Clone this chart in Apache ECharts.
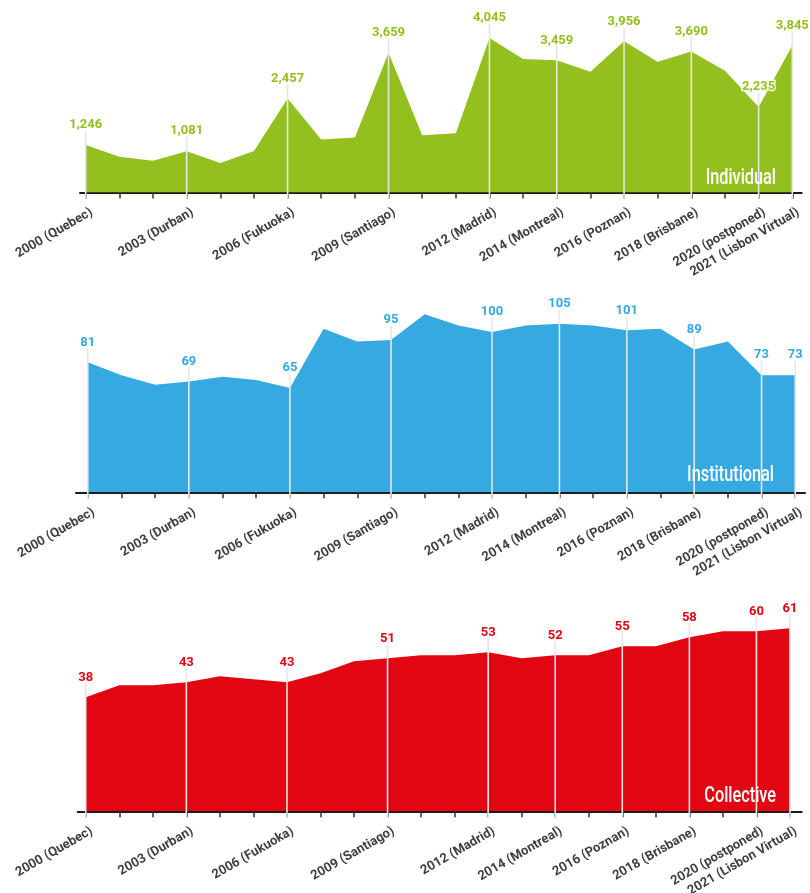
<!DOCTYPE html>
<html><head><meta charset="utf-8">
<script src="https://cdn.jsdelivr.net/npm/echarts@6/dist/echarts.min.js"></script>
<style>html,body{margin:0;padding:0;background:#fff}#c{width:810px;height:893px}</style>
</head><body><div id="c"></div>
<script>
const years = ['2000','2001','2002','2003','2004','2005','2006','2007','2008','2009','2010','2011','2012','2013','2014','2015','2016','2017','2018','2019','2020','2021'];
const labelIdx = [0,3,6,9,12,14,16,18,20,21];
const tickLabels = ['2000 (Quebec)','2003 (Durban)','2006 (Fukuoka)','2009 (Santiago)','2012 (Madrid)','2014 (Montreal)','2016 (Poznan)','2018 (Brisbane)','2020 (postponed)','2021 (Lisbon Virtual)'];
const individual = [1246,934,828,1081,775,1085,2457,1384,1437,3659,1500,1553,4045,3492,3459,3156,3956,3421,3690,3183,2235,3845];
const institutional = [81,73,67,69,72,70,65,102,94,95,111,104,100,104,105,104,101,102,89,94,73,73];
const collective = [38,42,42,43,45,44,43,46,50,51,52,52,53,51,52,52,55,55,58,60,60,61];
const seriesNames = ['Individual','Institutional','Collective'];
const colors = ['#93C01F','#36A9E1','#E20613'];

const panels = [
  {data: individual, grid:{left:80, right:8.3, top:20.5, height:172}, xmin:-0.17, xmax:21.28, ymax:4500, nameRight:776, nameY:178},
  {data: institutional, grid:{left:76, right:5, top:299.8, height:192.5}, xmin:-0.35, xmax:21.29, ymax:120, nameRight:774, nameY:475},
  {data: collective, grid:{left:77.7, right:8.3, top:616.3, height:195}, xmin:-0.24, xmax:21.35, ymax:65, nameRight:776, nameY:796}
];
const allIdx = years.map((_, i) => i);
const fmt = v => v.toLocaleString('en-US');
const ROT = 30 * Math.PI / 180;

const option = {
  animation:false,
  grid: panels.map(p => Object.assign({containLabel:false, outerBoundsMode:'none'}, p.grid)),
  xAxis: panels.map((p, k) => ({
    type:'value', gridIndex:k, min:p.xmin, max:p.xmax,
    splitLine:{show:false},
    axisLine:{show:true, lineStyle:{color:'#1a1a1a', width:2}},
    axisTick:{show:true, customValues: allIdx, length:6, lineStyle:{color:'#333', width:1.5}},
    axisLabel:{show:false}
  })),
  yAxis: panels.map((p, k) => ({type:'value', gridIndex:k, min:0, max:p.ymax, show:false, splitLine:{show:false}})),
  series: [],
  graphic: panels.map((p, k) => ({
    type:'text', x: p.nameRight, y: p.nameY, scaleX:0.74, z:100,
    style:{text: seriesNames[k], fill:'#fff', align:'right', verticalAlign:'middle', font:'500 22px Roboto'}
  }))
};

panels.forEach((p, k) => {
  option.series.push({
    type:'line', xAxisIndex:k, yAxisIndex:k, name: seriesNames[k],
    data: p.data.map((v, i) => [i, v]),
    symbol:'none', lineStyle:{width:0}, areaStyle:{color: colors[k], opacity:1}, z:2
  });
  option.series.push({
    type:'custom', xAxisIndex:k, yAxisIndex:k, z:5, clip:false, silent:true,
    data: labelIdx.map((i, j) => [i, p.data[i], j]),
    renderItem: (params, api) => {
      const x = api.value(0), v = api.value(1), j = api.value(2);
      const pt = api.coord([x, v]);
      const base = api.coord([x, 0]);
      return {type:'group', children:[
        {type:'line', shape:{x1:pt[0], y1:base[1]+6, x2:pt[0], y2:pt[1]-14}, style:{stroke:'#e6e6e6', lineWidth:1.6}},
        {type:'text', x:pt[0], y:pt[1]-20, style:{text: fmt(v), fill: colors[k], stroke:'#fff', lineWidth:2.5,
          align:'center', verticalAlign:'middle', font:'bold 13px Roboto'}},
        {type:'text', x:base[0]+6, y:base[1]+19, rotation: ROT, style:{text: tickLabels[j], fill:'#404040',
          align:'right', verticalAlign:'middle', font:'bold 13px Roboto'}}
      ]};
    }
  });
});

const chart = echarts.init(document.getElementById('c'), null, {renderer:'canvas'});
chart.setOption(option);
</script></body></html>
